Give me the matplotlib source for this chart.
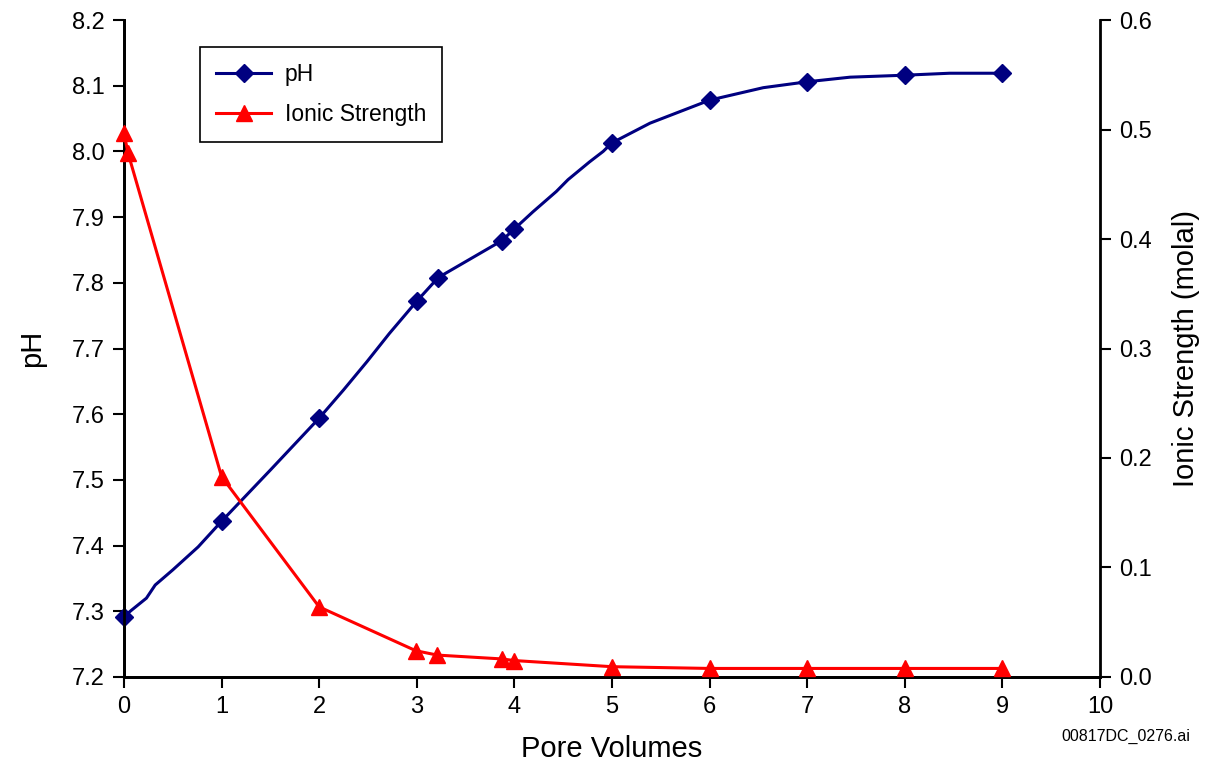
import numpy as np
import matplotlib
matplotlib.use('Agg')
import matplotlib.pyplot as plt
from matplotlib.ticker import FormatStrFormatter, MultipleLocator

plt.rcParams['font.family'] = ['Liberation Sans', 'DejaVu Sans']

# pH curve (dense) and the pore volumes where a marker sits
ph_x = [0.0, 0.08, 0.23, 0.32, 0.5, 0.76, 1.0, 1.5, 2.0, 2.25, 2.49, 2.72,
        3.0, 3.22, 3.87, 4.0, 4.19, 4.43, 4.55, 4.77, 4.91, 5.0, 5.39, 6.0,
        6.55, 7.0, 7.44, 8.0, 8.46, 9.0]
ph_y = [7.292, 7.302, 7.320, 7.340, 7.363, 7.398, 7.437, 7.515, 7.594, 7.637,
        7.680, 7.723, 7.772, 7.808, 7.864, 7.882, 7.908, 7.939, 7.957, 7.984,
        8.000, 8.013, 8.043, 8.078, 8.097, 8.106, 8.113, 8.116, 8.119, 8.119]
ph_marked = [0.0, 1.0, 2.0, 3.0, 3.22, 3.87, 4.0, 5.0, 6.0, 7.0, 8.0, 9.0]

# ionic strength (molal)
ion_x = [0.0, 0.04, 1.0, 2.0, 2.99, 3.21, 3.87, 4.0, 5.0, 6.0, 7.0, 8.0, 9.0]
ion_y = [0.497, 0.479, 0.183, 0.064, 0.024, 0.020, 0.0165, 0.015, 0.0094,
         0.0078, 0.0078, 0.0078, 0.0078]

navy = '#000080'
red = '#ff0000'

fig = plt.figure(figsize=(12.25, 7.7), dpi=100)
ax = fig.add_axes([0.1012, 0.1208, 0.7967, 0.8532])
ax2 = ax.twinx()

mark_idx = list(np.where(np.isin(ph_x, ph_marked))[0])
l1, = ax.plot(ph_x, ph_y, color=navy, lw=2.2, marker='D', markersize=9,
              markevery=mark_idx, label='pH', clip_on=False, zorder=3)
l2, = ax2.plot(ion_x, ion_y, color=red, lw=2.2, marker='^', markersize=11,
               label='Ionic Strength', clip_on=False, zorder=3)

ax.set_xlim(0, 10)
ax.set_ylim(7.2, 8.2)
ax2.set_ylim(0, 0.6)
ax.xaxis.set_major_locator(MultipleLocator(1))
ax.yaxis.set_major_locator(MultipleLocator(0.1))
ax2.yaxis.set_major_locator(MultipleLocator(0.1))
ax.yaxis.set_major_formatter(FormatStrFormatter('%.1f'))
ax2.yaxis.set_major_formatter(FormatStrFormatter('%.1f'))

for a in (ax, ax2):
    a.spines['top'].set_visible(False)
    for s in a.spines.values():
        s.set_linewidth(2)
    a.tick_params(direction='out', length=8, width=1.5, labelsize=17, pad=6)
ax.spines['right'].set_visible(False)

ax.set_xlabel('Pore Volumes', fontsize=21, labelpad=12)
ax.set_ylabel('pH', fontsize=21, labelpad=18)
ax2.set_ylabel('Ionic Strength (molal)', fontsize=21, labelpad=14)

leg = ax2.legend(handles=[l1, l2], loc='upper left',
                 bbox_to_anchor=(0.078, 0.959), borderaxespad=0,
                 fontsize=16.5, fancybox=False, framealpha=1,
                 edgecolor='black', handlelength=2.4, handletextpad=0.6,
                 borderpad=0.7, labelspacing=0.75)
leg.get_frame().set_linewidth(1.2)

fig.text(0.972, 0.038, '00817DC_0276.ai', fontsize=11.5, ha='right')

fig.savefig('out.png', dpi=100)
